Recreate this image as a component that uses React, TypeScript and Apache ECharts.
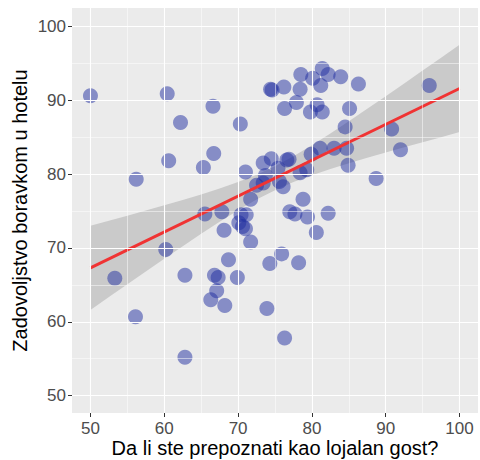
import React, { useEffect, useRef } from "react";
import * as echarts from "echarts";

// Scatter data: loyalty recognition (x) vs hotel stay satisfaction (y)
const loyaltyX = [
  50.0, 60.4, 62.2, 66.6, 70.3, 66.7, 60.6, 65.3, 56.2, 71.0,
  71.7, 72.5, 73.4, 73.7, 74.5, 76.6, 76.9, 75.4, 75.6, 76.1,
  78.4, 79.3, 79.9, 81.1, 83.0, 84.7, 84.5, 84.9, 88.7, 90.8,
  92.0, 95.9, 74.4, 74.6, 76.2, 78.5, 78.4, 80.1, 81.4, 82.2,
  81.2, 83.9, 86.3, 77.9, 76.3, 80.7, 79.8, 81.4, 85.1, 78.8,
  77.0, 77.7, 79.4, 82.2, 80.6, 75.9, 74.3, 78.2, 73.9, 76.3,
  60.2, 53.3, 56.1, 62.8, 62.8, 65.5, 67.8, 70.4, 71.1, 70.1,
  70.6, 71.0, 68.1, 71.7, 68.7, 66.8, 67.3, 69.9, 67.1, 66.3,
  68.2, 73.4,
];
const satisfactionY = [
  90.6, 90.9, 87.0, 89.2, 86.8, 82.8, 81.8, 80.9, 79.3, 80.3,
  76.6, 78.5, 78.8, 79.8, 82.1, 81.9, 82.0, 80.8, 79.0, 78.3,
  80.2, 80.6, 82.7, 83.5, 83.5, 83.5, 86.4, 81.2, 79.4, 86.1,
  83.3, 92.0, 91.5, 91.4, 91.8, 93.5, 91.5, 93.0, 94.3, 93.5,
  92.0, 93.2, 92.2, 89.7, 88.9, 89.4, 88.4, 88.4, 88.9, 76.6,
  74.9, 74.6, 74.2, 74.7, 72.1, 69.2, 67.9, 68.0, 61.8, 57.8,
  69.8, 65.9, 60.7, 55.2, 66.3, 74.6, 74.9, 74.5, 74.5, 73.4,
  72.9, 72.6, 72.4, 70.8, 68.4, 66.3, 66.0, 66.0, 64.2, 63.0,
  62.2, 81.5,
];

// Fitted regression line (ends)
const fitX = [50, 100];
const fitY = [67.3, 91.6];

// Confidence band
const bandX = [50, 52.5, 55, 57.5, 60, 62.5, 65, 67.5, 70, 72.5, 75, 77.5, 80, 82.5, 85, 87.5, 90, 92.5, 95, 97.5, 100];
const bandHigh = [73.0, 73.69, 74.37, 75.07, 75.78, 76.51, 77.25, 78.06, 78.92, 79.91, 81.07, 82.42, 83.91, 85.51, 87.15, 88.85, 90.56, 92.29, 94.02, 95.77, 97.51];
const bandLow = [61.6, 63.35, 65.09, 66.83, 68.54, 70.25, 71.93, 73.56, 75.12, 76.57, 77.83, 78.92, 79.85, 80.69, 81.47, 82.21, 82.92, 83.63, 84.32, 85.01, 85.69];

// Axis ticks and grid
const xTicks = [50, 60, 70, 80, 90, 100];
const yTicks = [50, 60, 70, 80, 90, 100];
const xMinor = [55, 65, 75, 85, 95];
const yMinor = [55, 65, 75, 85, 95];

const FONT = "Liberation Sans, Arial, Helvetica, sans-serif";

export default function App() {
  const ref = useRef<HTMLDivElement>(null);
  useEffect(() => {
    if (!ref.current) return;
    const chart = echarts.init(ref.current, undefined, { renderer: "svg" });
    const major = { color: "#ffffff", width: 1.1, type: "solid" as const };
    const minor = { color: "#ffffff", width: 0.5, type: "solid" as const };
    const gridLines = [
      ...xMinor.map((v) => ({ xAxis: v, lineStyle: minor })),
      ...yMinor.map((v) => ({ yAxis: v, lineStyle: minor })),
      ...xTicks.map((v) => ({ xAxis: v, lineStyle: major })),
      ...yTicks.map((v) => ({ yAxis: v, lineStyle: major })),
    ];
    chart.setOption({
      animation: false,
      textStyle: { fontFamily: FONT },
      grid: {
        left: 72,
        top: 8,
        right: 2,
        bottom: 47,
        show: true,
        backgroundColor: "#EBEBEB",
        borderWidth: 0,
        containLabel: false,
        outerBoundsMode: "none",
      },
      xAxis: {
        type: "value",
        min: 47.5,
        max: 102.5,
        name: "Da li ste prepoznati kao lojalan gost?",
        nameLocation: "middle",
        nameGap: 25,
        nameMoveOverlap: false,
        nameTextStyle: { fontSize: 20, lineHeight: 20, color: "#000000", fontFamily: FONT },
        axisLine: { show: false },
        splitLine: { show: false },
        axisTick: { show: true, length: 4, customValues: xTicks, lineStyle: { color: "#333333", width: 1 } },
        axisLabel: { customValues: xTicks, color: "#4D4D4D", fontSize: 17, lineHeight: 17, margin: 7, fontFamily: FONT },
      },
      yAxis: {
        type: "value",
        min: 47.65,
        max: 102.5,
        name: "Zadovoljstvo boravkom u hotelu",
        nameLocation: "middle",
        nameRotate: 90,
        nameGap: 42,
        nameMoveOverlap: false,
        nameTextStyle: { fontSize: 20, color: "#000000", fontFamily: FONT },
        axisLine: { show: false },
        splitLine: { show: false },
        axisTick: { show: true, length: 4, customValues: yTicks, lineStyle: { color: "#333333", width: 1 } },
        axisLabel: { customValues: yTicks, color: "#4D4D4D", fontSize: 17, margin: 6, fontFamily: FONT },
      },
      series: [
        {
          type: "scatter",
          data: [],
          z: 1,
          silent: true,
          markLine: {
            silent: true,
            symbol: ["none", "none"],
            label: { show: false },
            emphasis: { disabled: true },
            data: gridLines,
          },
        },
        {
          type: "custom",
          z: 2,
          silent: true,
          data: bandX.map((x, i) => [x, bandLow[i], bandHigh[i]]),
          encode: { x: 0, y: [1, 2] },
          renderItem: (params: any, api: any) => {
            if (params.dataIndex !== 0) return null;
            const pts: number[][] = [];
            for (let i = 0; i < bandX.length; i++) pts.push(api.coord([bandX[i], bandHigh[i]]));
            for (let i = bandX.length - 1; i >= 0; i--) pts.push(api.coord([bandX[i], bandLow[i]]));
            return {
              type: "polygon",
              shape: { points: pts },
              style: { fill: "rgba(153,153,153,0.4)" },
            };
          },
        },
        {
          type: "scatter",
          z: 3,
          symbolSize: 15,
          data: loyaltyX.map((x, i) => [x, satisfactionY[i]]),
          itemStyle: { color: "rgba(30,45,160,0.62)" },
        },
        {
          type: "line",
          z: 4,
          symbol: "none",
          data: fitX.map((x, i) => [x, fitY[i]]),
          lineStyle: { color: "#F03333", width: 3 },
        },
      ],
    });
    return () => chart.dispose();
  }, []);
  return (
    <div
      ref={ref}
      style={{ position: "fixed", left: 0, top: 0, width: 480, height: 460, background: "#ffffff" }}
    />
  );
}
